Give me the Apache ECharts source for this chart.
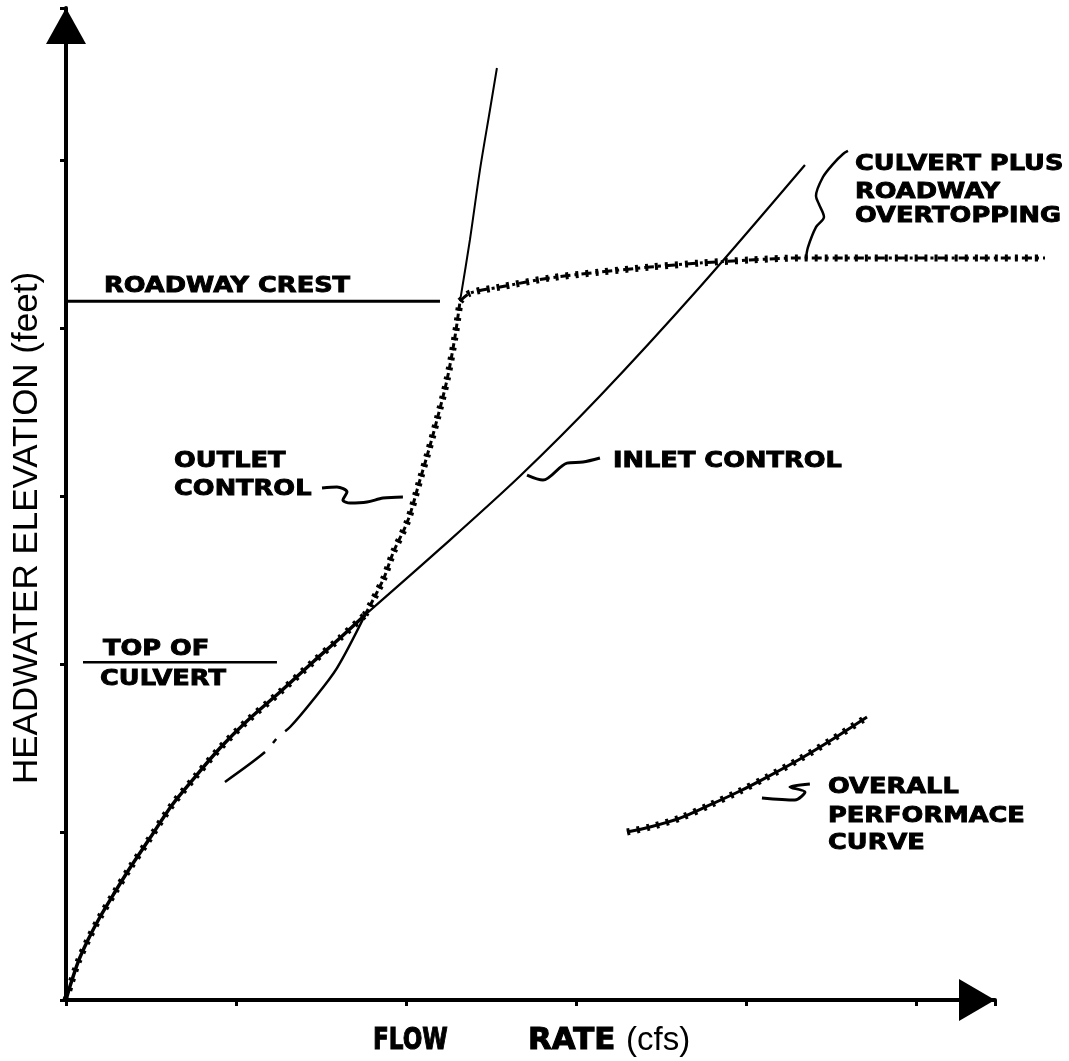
<!DOCTYPE html>
<html>
<head>
<meta charset="utf-8">
<title>Culvert performance curve</title>
<script src="https://cdn.jsdelivr.net/npm/echarts@6/dist/echarts.min.js"></script>
<style>
  html, body { margin: 0; padding: 0; background: #fff; }
  #main { width: 1069px; height: 1061px; }
</style>
</head>
<body>
<div id="main"></div>
<script>
// axis ranges (flow rate / headwater elevation, arbitrary units)
const xMax = 5.465
const xMaxWide = 5.759   // the overtopping curve runs past the arrow head
const yMax = 5.905

// inlet control: lower part is on the overall performance curve
const inletLower = [
  [0, 0], [0.024, 0.083], [0.071, 0.226], [0.129, 0.357], [0.2, 0.494],
  [0.288, 0.643], [0.376, 0.786], [0.494, 0.964], [0.624, 1.161], [0.759, 1.327],
  [0.906, 1.5], [1.065, 1.661], [1.259, 1.833], [1.453, 2.012], [1.612, 2.155],
  [1.759, 2.292]
]
const inletUpper = [
  [1.759, 2.292], [2.2, 2.685], [2.671, 3.119], [3.141, 3.595], [3.729, 4.244], [4.347, 4.97]
]
// outlet control
const outletLower = [
  [0.935, 1.298], [1.171, 1.476], [1.247, 1.565], [1.318, 1.625], [1.453, 1.786],
  [1.594, 1.976], [1.759, 2.292]
]
const outletMid = [
  [1.759, 2.292], [1.865, 2.5], [1.924, 2.661], [2.012, 2.857], [2.082, 3.095],
  [2.129, 3.256], [2.182, 3.452], [2.241, 3.69], [2.288, 3.946], [2.318, 4.16]
]
const outletUpper = [
  [2.318, 4.16], [2.376, 4.524], [2.435, 4.94], [2.494, 5.298], [2.535, 5.548]
]
// culvert plus roadway overtopping
const overtopping = [
  [2.318, 4.16], [2.376, 4.208], [2.553, 4.244], [2.847, 4.298], [3.141, 4.333],
  [3.435, 4.363], [3.729, 4.387], [4.024, 4.405], [4.318, 4.417], [4.906, 4.417], [5.759, 4.417]
]
// sample of the overall performance curve (key)
const performanceKey = [
  [3.300, 1.0], [3.435, 1.030], [3.612, 1.083], [3.788, 1.161], [3.965, 1.244],
  [4.124, 1.327], [4.318, 1.435], [4.512, 1.554], [4.712, 1.685]
]
// reference levels
const roadwayCrest = [[0, 4.16], [2.2, 4.16]]
const topOfCulvert = [[0.1, 2.01], [1.241, 2.01]]

// leader lines from the labels
const leaderOvertop = [
  [4.353, 4.417], [4.365, 4.482], [4.412, 4.601], [4.459, 4.661], [4.429, 4.738],
  [4.412, 4.786], [4.453, 4.899], [4.512, 4.976], [4.571, 5.036], [4.6, 5.054]
]
const leaderOutlet = [
  [1.506, 3.048], [1.594, 3.054], [1.653, 3.024], [1.629, 2.976], [1.671, 2.958],
  [1.771, 2.964], [1.865, 2.988], [1.982, 2.994]
]
const leaderInlet = [
  [2.712, 3.125], [2.806, 3.095], [2.947, 3.196], [3.041, 3.202], [3.141, 3.226]
]
const leaderKey = [
  [4.094, 1.202], [4.288, 1.190], [4.347, 1.238], [4.259, 1.268], [4.376, 1.286]
]

const black = '#000'

function line(data, width, type, axis) {
  return {
    type: 'line', data: data, showSymbol: false, smooth: 0.3, clip: false,
    xAxisIndex: axis || 0, yAxisIndex: axis || 0,
    silent: true, animation: false,
    lineStyle: { color: black, width: width, type: type || 'solid' }
  }
}
// notched texture laid over a curve
function notches(data, axis) {
  return {
    type: 'line', data: data, showSymbol: false, smooth: 0.3, clip: false,
    xAxisIndex: axis || 0, yAxisIndex: axis || 0,
    silent: true, animation: false,
    lineStyle: { color: black, width: 7, type: [3, 7] }
  }
}
function label(text, x, y, size, sx, sy) {
  return {
    type: 'text', x: x, y: y, scaleX: sx || 1.35, scaleY: sy || 1.15, silent: true,
    style: {
      text: text, fill: black, stroke: black, lineWidth: 0.8,
      fontFamily: 'DejaVu Sans', fontWeight: 'bold',
      fontSize: size || 19, align: 'left', verticalAlign: 'middle'
    }
  }
}
const hiddenAxis = {
  show: false, axisLine: { show: false }, axisTick: { show: false },
  axisLabel: { show: false }, splitLine: { show: false }
}

const chart = echarts.init(document.getElementById('main'))
const option = {
  backgroundColor: '#fff',
  animation: false,
  grid: [
    { left: 66, right: 74, top: 8, bottom: 61, outerBoundsMode: 'none' },
    { left: 66, right: 24, top: 8, bottom: 61, outerBoundsMode: 'none' }
  ],
  xAxis: [{
    type: 'value', min: 0, max: xMax, interval: 1, gridIndex: 0,
    axisLine: {
      show: true, symbol: ['none', 'triangle'], symbolSize: [42, 36], symbolOffset: [0, -18],
      lineStyle: { color: black, width: 4 }
    },
    axisTick: { show: true, length: 6, lineStyle: { color: black, width: 3 } },
    axisLabel: { show: false },
    splitLine: { show: false }
  }, Object.assign({ type: 'value', min: 0, max: xMaxWide, gridIndex: 1 }, hiddenAxis)],
  yAxis: [{
    type: 'value', min: 0, max: yMax, interval: 1, gridIndex: 0,
    axisLine: {
      show: true, symbol: ['none', 'triangle'], symbolSize: [40, 36], symbolOffset: [0, -18],
      lineStyle: { color: black, width: 4 }
    },
    axisTick: { show: true, length: 6, lineStyle: { color: black, width: 3 } },
    axisLabel: { show: false },
    splitLine: { show: false }
  }, Object.assign({ type: 'value', min: 0, max: yMax, gridIndex: 1 }, hiddenAxis)],
  series: [
    line(inletLower, 3.5), notches(inletLower),
    line(inletUpper, 2.2),
    line(outletLower, 2.5, [50, 12, 5, 12, 400]),
    line(outletMid, 3, [7, 3]), notches(outletMid),
    line(outletUpper, 2),
    line(overtopping, 3, [10, 4, 3, 4], 1), notches(overtopping, 1),
    line(performanceKey, 3), notches(performanceKey),
    line(roadwayCrest, 3),
    line(topOfCulvert, 2.5),
    line(leaderOvertop, 2.5), line(leaderOutlet, 3), line(leaderInlet, 3), line(leaderKey, 3)
  ],
  graphic: [
    label('ROADWAY CREST', 104, 286),
    label('CULVERT PLUS', 855, 164),
    label('ROADWAY', 855, 192),
    label('OVERTOPPING', 855, 216),
    label('OUTLET', 174, 461),
    label('CONTROL', 174, 489),
    label('INLET CONTROL', 613, 461),
    label('TOP OF', 103, 649),
    label('CULVERT', 100, 679),
    label('OVERALL', 828, 787),
    label('PERFORMACE', 828, 816),
    label('CURVE', 828, 843),
    label('FLOW', 373, 1041, 22, 1.05, 1.35),
    label('RATE', 528, 1041, 22, 1.4, 1.35),
    {
      type: 'text', x: 626, y: 1041, silent: true,
      style: {
        text: '(cfs)', fill: black, fontFamily: 'Liberation Sans',
        fontSize: 33, align: 'left', verticalAlign: 'middle'
      }
    },
    {
      type: 'text', x: 27, y: 528, rotation: Math.PI / 2, silent: true,
      style: {
        text: 'HEADWATER ELEVATION (feet)', fill: black, fontFamily: 'Liberation Sans',
        fontSize: 35, align: 'center', verticalAlign: 'middle'
      }
    }
  ]
}
chart.setOption(option)
</script>
</body>
</html>
